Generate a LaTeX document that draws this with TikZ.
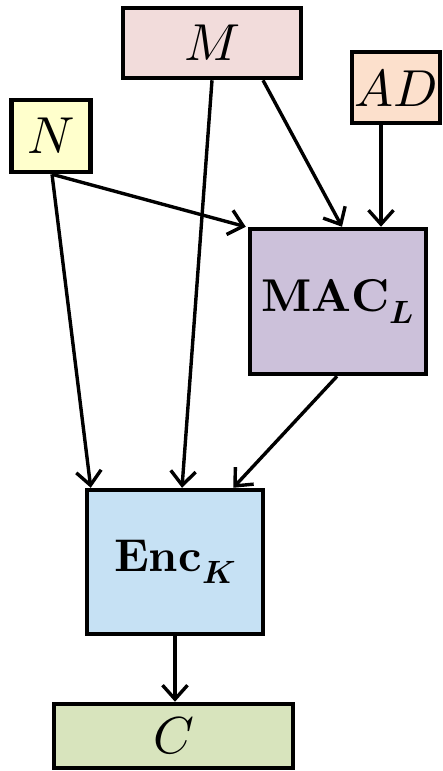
\documentclass[tikz,border=0pt]{standalone}
\usepackage{unicode-math}
\setmathfont{Latin Modern Math}
\usetikzlibrary{arrows.meta}
\definecolor{cM}{HTML}{F2DCDB}
\definecolor{cAD}{HTML}{FCE0CC}
\definecolor{cN}{HTML}{FFFFCC}
\definecolor{cMAC}{HTML}{CCC1DA}
\definecolor{cEnc}{HTML}{C6E1F4}
\definecolor{cC}{HTML}{D8E4BD}
\begin{document}
\begin{tikzpicture}[x=1pt,y=1pt,
  box/.style={draw=black,line width=4.5pt,rectangle,inner sep=0pt,anchor=center},
  varfont/.style={font=\fontsize{52}{58}\selectfont},
  opfont/.style={font=\fontsize{46}{52}\selectfont},
  arr/.style={line width=3.4pt,-{Straight Barb[length=14pt,width=25pt,line width=3.4pt]}}]
\useasboundingbox (0,0) rectangle (442,-771);
\node[box,fill=cM,minimum width=178pt,minimum height=70pt,varfont] (M) at (212,-43) {$M$};
\node[box,fill=cAD,minimum width=88pt,minimum height=71pt,varfont] (AD) at (396,-87.5) {$AD$};
\node[box,fill=cN,minimum width=79pt,minimum height=72pt,varfont] (N) at (51,-136) {$N$};
\node[box,fill=cMAC,minimum width=176pt,minimum height=145pt,opfont] (MAC) at (338,-301.5) {$\symbf{MAC}_{\symbfit{L}}$};
\node[box,fill=cEnc,minimum width=176pt,minimum height=144pt,opfont] (Enc) at (175,-562) {$\symbf{Enc}_{\symbfit{K}}$};
\node[box,fill=cC,minimum width=239pt,minimum height=64pt,varfont] (C) at (173.5,-736) {$C$};
\draw[arr] ([xshift=1pt]N.south) -- ([xshift=-2pt]MAC.north west);
\draw[arr] ([xshift=1pt]N.south) -- ([xshift=6pt]Enc.north west);
\draw[arr] (M.south) -- ([xshift=7pt]Enc.north);
\draw[arr] ([xshift=51pt]M.south) -- ([xshift=4pt]MAC.north);
\draw[arr] ([xshift=-15pt]AD.south) -- ([xshift=43pt]MAC.north);
\draw[arr] ([xshift=-1pt]MAC.south) -- ([xshift=-32pt]Enc.north east);
\draw[arr] (Enc.south) -- (Enc.south |- C.north);
\end{tikzpicture}
\end{document}
